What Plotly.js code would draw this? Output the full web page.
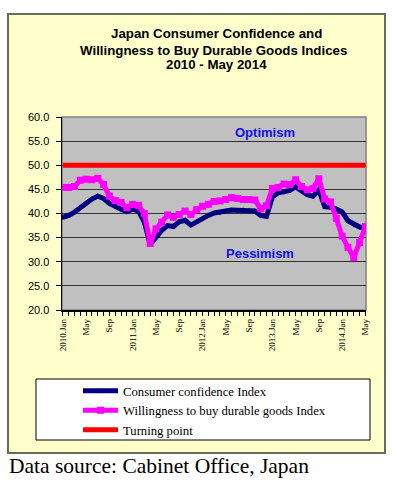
<!DOCTYPE html>
<html>
<head>
<meta charset="utf-8">
<script src="https://cdn.plot.ly/plotly-3.0.1.min.js"></script>
<style>
  html, body { margin: 0; padding: 0; background: #ffffff; }
  #chart { width: 397px; height: 483px; }
</style>
</head>
<body>
<div id="chart"></div>
<script>
// Months Jan 2010 .. May 2014 (index 0 .. 52)
const monthIndex = [
  0,1,2,3,4,5,6,7,8,9,10,11,
  12,13,14,15,16,17,18,19,20,21,22,23,
  24,25,26,27,28,29,30,31,32,33,34,35,
  36,37,38,39,40,41,42,43,44,45,46,47,
  48,49,50,51,52
];

const consumerConfidence = [
  39.2,39.6,40.3,41.3,42.2,43.0,43.6,43.1,42.1,41.4,40.9,40.4,
  40.9,40.5,38.2,33.6,35.2,36.5,37.5,37.3,38.3,38.6,37.6,38.3,
  38.9,39.6,40.1,40.2,40.5,40.7,40.6,40.7,40.6,40.5,39.6,39.4,
  43.4,44.3,44.5,44.8,45.5,44.7,43.9,43.6,44.9,41.4,41.3,40.9,
  40.3,38.5,37.7,37.2,37.0
];

const durableGoods = [
  45.4,45.4,45.6,46.9,47.1,47.0,47.3,46.0,43.6,42.7,42.3,41.2,
  41.9,41.7,40.0,33.8,36.8,38.2,39.7,39.2,39.8,40.5,39.8,40.8,
  41.5,41.9,42.5,42.6,42.9,43.3,43.1,42.9,42.9,42.8,41.0,41.6,
  45.2,45.4,46.1,46.0,47.0,45.6,44.9,45.2,47.2,43.0,42.4,39.0,
  35.3,33.0,30.9,34.0,37.3
];

const turningX = [0, 52];
const turningY = [50, 50];

const tickVals = [0,4,8,12,16,20,24,28,32,36,40,44,48,52];
const tickText = ["2010.Jan","May","Sep","2011.Jan","May","Sep","2012.Jan","May","Sep",
                  "2013.Jan","May","Sep","2014.Jan","May"];

const seriesNames = ["Consumer confidence Index",
                     "Willingness to buy durable goods Index",
                     "Turning point"];

// layout geometry (pixels)
const W = 397, H = 483;
const M = {l: 62, r: 31, t: 117, b: 173};
const PW = W - M.l - M.r, PH = H - M.t - M.b;
const px = v => (v - M.l) / PW;
const py = v => (H - M.b - v) / PH;

const traces = [
  {
    x: monthIndex, y: consumerConfidence, name: seriesNames[0],
    type: 'scatter', mode: 'lines+markers',
    line: {color: '#000080', width: 5},
    marker: {color: '#000080', size: 4, symbol: 'diamond'}
  },
  {
    x: monthIndex, y: durableGoods, name: seriesNames[1],
    type: 'scatter', mode: 'lines+markers',
    line: {color: '#FF00FF', width: 5},
    marker: {color: '#FF00FF', size: 7, symbol: 'square'}
  },
  {
    x: turningX, y: turningY, name: seriesNames[2],
    type: 'scatter', mode: 'lines',
    line: {color: '#FF0000', width: 5}
  }
];

const serif = 'Liberation Serif, Times New Roman, serif';
const sans = 'Liberation Sans, Arial, sans-serif';

const layout = {
  width: W, height: H,
  margin: M,
  paper_bgcolor: '#ffffff',
  plot_bgcolor: '#C0C0C0',
  showlegend: true,
  legend: {
    x: px(78), y: py(376), xanchor: 'left', yanchor: 'top',
    bgcolor: 'rgba(0,0,0,0)', borderwidth: 0,
    font: {family: serif, size: 12.7, color: '#000'},
    itemwidth: 35, tracegroupgap: 0
  },
  xaxis: {
    range: [-0.15, 52.1],
    tickmode: 'array', tickvals: tickVals, ticktext: tickText,
    tickangle: -90,
    tickfont: {family: serif, size: 9, color: '#000'},
    ticks: 'outside', ticklen: 4, tickcolor: '#000', tickwidth: 1,
    minor: {tickmode: 'linear', tick0: 0, dtick: 1, ticks: 'outside', ticklen: 4, tickcolor: '#000', showgrid: false},
    showgrid: false, zeroline: false,
    showline: true, linecolor: '#000', linewidth: 1.5
  },
  yaxis: {
    range: [20, 60],
    tickmode: 'linear', tick0: 20, dtick: 5,
    tickformat: '.1f',
    tickfont: {family: sans, size: 11, color: '#000'},
    ticks: 'outside', ticklen: 5, tickcolor: '#000',
    ticklabelstandoff: 4,
    showgrid: true, gridcolor: '#303030', gridwidth: 1,
    zeroline: false,
    showline: true, linecolor: '#000', linewidth: 1.5
  },
  shapes: [
    {type: 'rect', xref: 'paper', yref: 'paper', layer: 'below',
     x0: px(8), x1: px(385), y0: py(14), y1: py(453),
     fillcolor: '#FFFFCC', line: {color: '#6b6b5a', width: 2}},
    {type: 'rect', xref: 'paper', yref: 'paper', layer: 'below',
     x0: 0, x1: 1, y0: 0, y1: 1,
     fillcolor: '#C0C0C0', line: {color: '#808080', width: 1.5}},
    {type: 'rect', xref: 'paper', yref: 'paper', layer: 'below',
     x0: px(36), x1: px(370), y0: py(379), y1: py(440),
     fillcolor: '#FFFFFF', line: {color: '#000', width: 1}}
  ],
  annotations: [
    {text: '<b>Japan Consumer Confidence and</b>', xref: 'paper', yref: 'paper',
     x: px(217), y: py(33.5), showarrow: false, xanchor: 'center', yanchor: 'middle',
     font: {family: sans, size: 13.3, color: '#000'}},
    {text: '<b>Willingness to Buy Durable Goods Indices</b>', xref: 'paper', yref: 'paper',
     x: px(213), y: py(51), showarrow: false, xanchor: 'center', yanchor: 'middle',
     font: {family: sans, size: 13.3, color: '#000'}},
    {text: '<b>2010 - May 2014</b>', xref: 'paper', yref: 'paper',
     x: px(217), y: py(64.5), showarrow: false, xanchor: 'center', yanchor: 'middle',
     font: {family: sans, size: 13.3, color: '#000'}},
    {text: '<b>Optimism</b>', xref: 'paper', yref: 'paper',
     x: px(265), y: py(132), showarrow: false, xanchor: 'center', yanchor: 'middle',
     font: {family: sans, size: 13, color: '#1010F0'}},
    {text: '<b>Pessimism</b>', xref: 'paper', yref: 'paper',
     x: px(260), y: py(253), showarrow: false, xanchor: 'center', yanchor: 'middle',
     font: {family: sans, size: 13, color: '#1010F0'}},
    {text: 'Data source: Cabinet Office, Japan', xref: 'paper', yref: 'paper',
     x: px(7), y: py(466), showarrow: false, xanchor: 'left', yanchor: 'middle',
     font: {family: serif, size: 21.5, color: '#000'}}
  ]
};

Plotly.newPlot('chart', traces, layout, {displayModeBar: false, staticPlot: true});
</script>
</body>
</html>
